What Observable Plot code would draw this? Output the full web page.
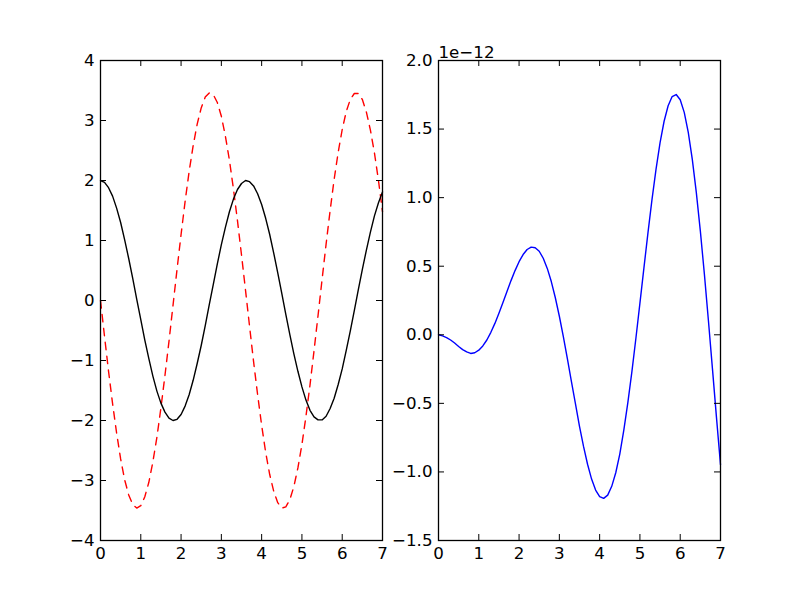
<!DOCTYPE html>
<html><head><meta charset="utf-8">
<script src="https://cdn.jsdelivr.net/npm/d3@7"></script>
<script src="https://cdn.jsdelivr.net/npm/@observablehq/plot@0.6"></script>
<style>
body{margin:0;background:#fff;}
#fig{position:relative;width:800px;height:600px;background:#fff;overflow:hidden;}
#fig svg{position:absolute;top:0;}
</style></head><body><div id="fig"></div>
<script>
// sample times
const t = [0,0.1,0.2,0.3,0.4,0.5,0.6,0.7,0.8,0.9,1.0,1.1,1.2,1.3,1.4,1.5,1.6,1.7,1.8,1.9,
  2.0,2.1,2.2,2.3,2.4,2.5,2.6,2.7,2.8,2.9,3.0,3.1,3.2,3.3,3.4,3.5,3.6,3.7,3.8,3.9,
  4.0,4.1,4.2,4.3,4.4,4.5,4.6,4.7,4.8,4.9,5.0,5.1,5.2,5.3,5.4,5.5,5.6,5.7,5.8,5.9,
  6.0,6.1,6.2,6.3,6.4,6.5,6.6,6.7,6.8,6.9,7.0];
// left panel: black solid line
const position = [2.00,1.97,1.88,1.74,1.54,1.30,1.01,0.70,0.37,0.02,-0.32,-0.66,-0.97,-1.26,-1.51,-1.71,-1.86,-1.96,-2.00,-1.98,
  -1.90,-1.76,-1.57,-1.33,-1.05,-0.75,-0.42,-0.07,0.27,0.61,0.93,1.22,1.48,1.69,1.85,1.95,2.00,1.98,1.91,1.78,
  1.60,1.37,1.10,0.79,0.46,0.12,-0.23,-0.57,-0.89,-1.18,-1.44,-1.66,-1.83,-1.94,-1.99,-1.99,-1.93,-1.80,-1.63,-1.40,
  -1.14,-0.83,-0.51,-0.17,0.18,0.52,0.84,1.14,1.41,1.63,1.81];
// left panel: red dashed line
const velocity = [0.00,-0.60,-1.18,-1.72,-2.21,-2.64,-2.99,-3.24,-3.40,-3.46,-3.42,-3.27,-3.03,-2.69,-2.28,-1.79,-1.25,-0.68,-0.08,0.52,
  1.10,1.65,2.15,2.58,2.94,3.21,3.39,3.46,3.43,3.30,3.07,2.74,2.34,1.86,1.33,0.76,0.17,-0.43,-1.02,-1.57,
  -2.08,-2.53,-2.90,-3.18,-3.37,-3.46,-3.44,-3.32,-3.10,-2.79,-2.40,-1.93,-1.41,-0.84,-0.25,0.35,0.94,1.50,2.02,2.47,
  2.85,3.15,3.35,3.45,3.45,3.35,3.14,2.84,2.46,2.00,1.48];
// right panel: blue line, in units of 1e-12
const errorE12 = [0,-0.008,-0.02,-0.038,-0.06,-0.085,-0.108,-0.125,-0.136,-0.131,-0.112,-0.081,-0.038,0.018,0.083,0.157,0.235,0.316,0.395,0.468,
  0.533,0.585,0.622,0.639,0.635,0.609,0.558,0.484,0.388,0.270,0.135,-0.016,-0.176,-0.341,-0.504,-0.668,-0.814,-0.944,-1.052,-1.132,
  -1.180,-1.193,-1.169,-1.105,-1.006,-0.870,-0.696,-0.495,-0.270,-0.025,0.231,0.490,0.745,0.987,1.208,1.401,1.557,1.670,1.737,1.752,
  1.714,1.622,1.476,1.279,1.037,0.756,0.442,0.104,-0.247,-0.602,-0.948];
const offsetLabel = "1e\u221212";

const xTicks = [0,1,2,3,4,5,6,7];
const leftYTicks = [-4,-3,-2,-1,0,1,2,3,4];
const rightYTicks = [-1.5,-1.0,-0.5,0.0,0.5,1.0,1.5,2.0];

const FONT = "'DejaVu Sans', sans-serif";
const FS = 16.67;
const TICK = 6;
const W = 400, H = 600, MT = 60, MB = 60;

function panel({left, mL, mR, yDomain, yTicks, yFmt, lines, extra = []}) {
  const fw = W - mL - mR, fh = H - MT - MB;
  const svg = Plot.plot({
    width: W, height: H,
    marginLeft: mL, marginRight: mR, marginTop: MT, marginBottom: MB,
    style: {fontFamily: FONT, fontSize: FS + "px", background: "transparent", color: "black", overflow: "visible"},
    x: {domain: [0, 7]},
    y: {domain: yDomain},
    marks: [
      ...lines,
      // inward ticks on all four sides
      Plot.tickX(xTicks, {x: d => d, stroke: "black", strokeWidth: 1, insetTop: fh - TICK}),
      Plot.tickX(xTicks, {x: d => d, stroke: "black", strokeWidth: 1, insetBottom: fh - TICK}),
      Plot.tickY(yTicks, {y: d => d, stroke: "black", strokeWidth: 1, insetRight: fw - TICK}),
      Plot.tickY(yTicks, {y: d => d, stroke: "black", strokeWidth: 1, insetLeft: fw - TICK}),
      Plot.axisX(xTicks, {anchor: "bottom", tickSize: 0, tickPadding: 7, tickFormat: d3.format("d"), label: null, fontSize: FS}),
      Plot.axisY(yTicks, {anchor: "left", tickSize: 0, tickPadding: 6, tickFormat: yFmt, label: null, fontSize: FS}),
      Plot.frame({stroke: "black", strokeWidth: 1.3}),
      ...extra
    ]
  });
  svg.style.left = left + "px";
  document.getElementById("fig").appendChild(svg);
}

const leftData = t.map((d, i) => ({t: d, pos: position[i], vel: velocity[i]}));
const rightData = t.map((d, i) => ({t: d, err: errorE12[i]}));

panel({
  left: 0, mL: 100, mR: 18,
  yDomain: [-4, 4], yTicks: leftYTicks, yFmt: d3.format("d"),
  lines: [
    Plot.line(leftData, {x: "t", y: "vel", stroke: "#ff0000", strokeWidth: 1.4, strokeDasharray: "7.5,6.5"}),
    Plot.line(leftData, {x: "t", y: "pos", stroke: "#000000", strokeWidth: 1.4})
  ]
});

panel({
  left: 400, mL: 38, mR: 80,
  yDomain: [-1.5, 2.0], yTicks: rightYTicks, yFmt: d3.format(".1f"),
  lines: [
    Plot.line(rightData, {x: "t", y: "err", stroke: "#0000ff", strokeWidth: 1.4})
  ],
  extra: [
    Plot.text([offsetLabel], {text: d => d, frameAnchor: "top-left", textAnchor: "start", lineAnchor: "bottom", dy: -3, fontSize: FS, fill: "black"})
  ]
});
</script></body></html>
